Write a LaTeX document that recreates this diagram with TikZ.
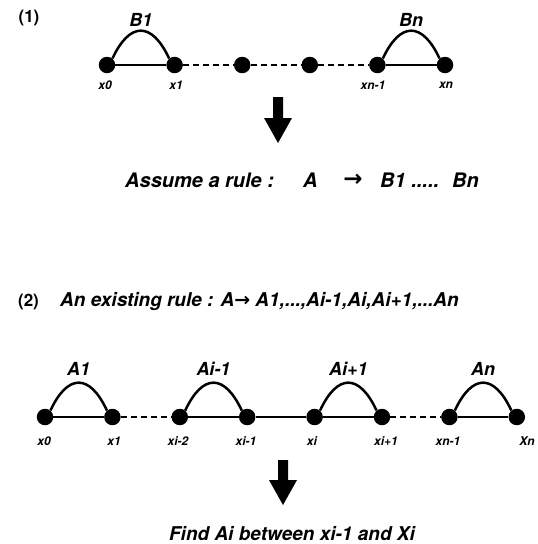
\documentclass[tikz,border=0pt]{standalone}
\usepackage{fontspec}
\setmainfont{TeX Gyre Heros}
\newfontfamily\arrowfont{DejaVu Sans}
\usetikzlibrary{arrows.meta}
\begin{document}
\begin{tikzpicture}[x=1pt,y=-1pt,
  vtx/.style={circle,fill=black,inner sep=0pt,minimum size=16.5pt},
  solidedge/.style={line width=2.5pt},
  dashedge/.style={line width=2.8pt,dash pattern=on 6pt off 4pt},
  arcedge/.style={line width=2.5pt},
  small/.style={font=\fontsize{12}{13}\selectfont\bfseries\itshape,inner sep=0pt},
  lab/.style={font=\fontsize{18}{20}\selectfont\bfseries\itshape,inner sep=0pt},
  big/.style={font=\fontsize{20}{23}\selectfont\bfseries\itshape,inner sep=0pt},
  hdr/.style={font=\fontsize{19}{22}\selectfont\bfseries\itshape,inner sep=0pt},
  num/.style={font=\fontsize{17}{18}\selectfont\bfseries,inner sep=0pt},
  fatarrow/.style={fill=black}
]
\useasboundingbox (0,0) rectangle (538,544);

% ---------- Part (1) ----------
\node[num] (n1) at (29,18) {(1)};
\foreach \i/\x in {0/107,1/174.6,2/242.2,3/309.8,4/377.4,5/445}
  \node[vtx] (a\i) at (\x,65) {};
\draw[solidedge] (a0) -- (a1);
\draw[dashedge] (a1) -- (a2);
\draw[dashedge] (a2) -- (a3);
\draw[dashedge] (a3) -- (a4);
\draw[solidedge] (a4) -- (a5);
\draw[arcedge] (a0.50) .. controls +(-65:41) and +(-115:41) .. (a1.130);
\draw[arcedge] (a4.50) .. controls +(-65:41) and +(-115:41) .. (a5.130);
\node[lab] (lB1) at (141,20) {B1};
\node[lab] (lBn) at (411,20) {Bn};
\node[small] (la0) at (105,85) {x0};
\node[small] (la1) at (176,85) {x1};
\node[small] (la4) at (373,85) {xn-1};
\node[small] (la5) at (446,85) {xn};

\coordinate (ar1) at (278,97);
\fill[fatarrow] (ar1) ++(-5,0) -- ++(10,0) -- ++(0,21) -- ++(9,0) -- ++(-14,25) -- ++(-14,-25) -- ++(9,0) -- cycle;

\node[big,anchor=west] (t1a) at (125,180) {Assume a rule :};
\node[big,anchor=west] (t1b) at (303,180) {A};
\node[big] (t1c) at (353,180) {\fontsize{23}{23}\selectfont\arrowfont\bfseries →};
\node[big,anchor=west] (t1d) at (380,180) {B1 .....};
\node[big,anchor=west] (t1e) at (452,180) {Bn};

% ---------- Part (2) ----------
\node[num] (n2) at (28.5,302) {(2)};
\node[hdr,anchor=west] (t2) at (60,302) {An existing rule : A{\arrowfont\bfseries →} A1,...,Ai-1,Ai,Ai+1,...An};

\foreach \i/\x in {0/45,1/112.4,2/179.8,3/247.2,4/314.6,5/382,6/449.4,7/516.8}
  \node[vtx] (b\i) at (\x,417) {};
\draw[solidedge] (b0) -- (b1);
\draw[dashedge] (b1) -- (b2);
\draw[solidedge] (b2) -- (b3);
\draw[solidedge] (b3) -- (b4);
\draw[solidedge] (b4) -- (b5);
\draw[dashedge] (b5) -- (b6);
\draw[solidedge] (b6) -- (b7);
\draw[arcedge] (b0.50) .. controls +(-65:41) and +(-115:41) .. (b1.130);
\draw[arcedge] (b2.50) .. controls +(-65:41) and +(-115:41) .. (b3.130);
\draw[arcedge] (b4.50) .. controls +(-65:41) and +(-115:41) .. (b5.130);
\draw[arcedge] (b6.50) .. controls +(-65:41) and +(-115:41) .. (b7.130);
\node[lab] (lA1) at (78.7,369) {A1};
\node[lab] (lAi1) at (213.5,369) {Ai-1};
\node[lab] (lAi2) at (348.3,369) {Ai+1};
\node[lab] (lAn) at (483.1,369) {An};
\node[small] (lb0) at (44,441) {x0};
\node[small] (lb1) at (114,441) {x1};
\node[small] (lb2) at (178,441) {xi-2};
\node[small] (lb3) at (246,441) {xi-1};
\node[small] (lb4) at (312,441) {xi};
\node[small] (lb5) at (386,441) {xi+1};
\node[small] (lb6) at (448,441) {xn-1};
\node[small] (lb7) at (527,441) {Xn};

\coordinate (ar2) at (283,460);
\fill[fatarrow] (ar2) ++(-5,0) -- ++(10,0) -- ++(0,20) -- ++(9,0) -- ++(-14,25) -- ++(-14,-25) -- ++(9,0) -- cycle;

\node[hdr,anchor=base] (t3) at (292,540) {Find Ai between xi-1 and Xi};
\end{tikzpicture}
\end{document}
